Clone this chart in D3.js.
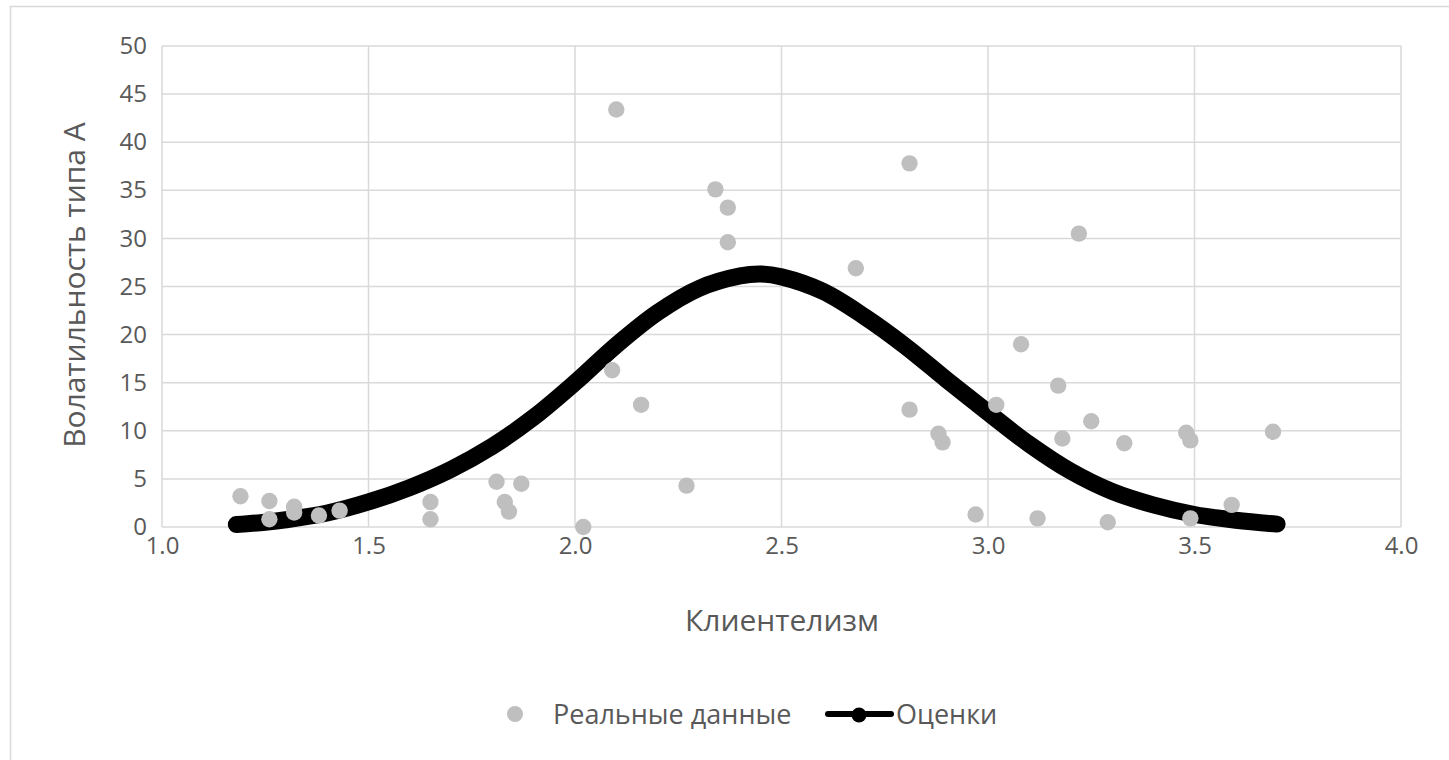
<!DOCTYPE html>
<html>
<head>
<meta charset="utf-8">
<script src="https://cdn.jsdelivr.net/npm/d3@7"></script>
<style>
  body { margin: 0; background: #fff; }
  text { font-family: "Open Sans", "Noto Sans", sans-serif; fill: #595959; }
</style>
</head>
<body>
<script>
// real data (Клиентелизм, Волатильность типа А)
const realX = [1.19, 1.26, 1.26, 1.32, 1.32, 1.38, 1.43, 1.65, 1.65,
  1.81, 1.87, 1.83, 1.84, 2.02, 2.09, 2.10, 2.16, 2.27, 2.34, 2.37, 2.37,
  2.68, 2.81, 2.81, 2.88, 2.89, 2.97, 3.02, 3.08, 3.12, 3.17, 3.18, 3.22,
  3.25, 3.29, 3.33, 3.48, 3.49, 3.49, 3.59, 3.69];
const realY = [3.2, 2.7, 0.8, 2.1, 1.5, 1.2, 1.7, 2.6, 0.8,
  4.7, 4.5, 2.6, 1.6, 0.0, 16.3, 43.4, 12.7, 4.3, 35.1, 33.2, 29.6,
  26.9, 37.8, 12.2, 9.7, 8.8, 1.3, 12.7, 19.0, 0.9, 14.7, 9.2, 30.5,
  11.0, 0.5, 8.7, 9.8, 9.0, 0.9, 2.3, 9.9];

// estimates (curve)
const estX = [1.18, 1.25, 1.3, 1.4, 1.5, 1.6, 1.7, 1.8, 1.9, 2.0, 2.1, 2.2,
  2.3, 2.4, 2.45, 2.5, 2.6, 2.7, 2.8, 2.9, 3.0, 3.1, 3.2, 3.3, 3.4, 3.5, 3.6, 3.7];
const estY = [0.25, 0.5, 0.75, 1.45, 2.6, 4.1, 6.0, 8.4, 11.4, 15.0, 18.9, 22.3,
  24.8, 26.1, 26.3, 26.0, 24.5, 21.9, 18.8, 15.3, 11.9, 8.6, 5.8, 3.7, 2.3, 1.3, 0.7, 0.3];

const xTicks = [1.0, 1.5, 2.0, 2.5, 3.0, 3.5, 4.0];
const yTicks = [0, 5, 10, 15, 20, 25, 30, 35, 40, 45, 50];

const xTitle = "Клиентелизм";
const yTitle = "Волатильность типа А";
const legendNames = ["Реальные данные", "Оценки"];

const W = 1449, H = 760;
const plotLeft = 162, plotRight = 1401, plotTop = 46, plotBottom = 527;
const gridColor = "#d9d9d9";
const dotColor = "#bfbfbf";
const textColor = "#595959";
const fontFamily = "'Open Sans', 'Noto Sans', sans-serif";

const svg = d3.select("body").append("svg")
  .attr("width", W)
  .attr("height", H);

// outer chart border
svg.append("rect")
  .attr("x", 10.5).attr("y", 6.5)
  .attr("width", W).attr("height", H)
  .style("fill", "none")
  .style("stroke", gridColor)
  .style("stroke-width", 1.5);

const x = d3.scaleLinear().domain([1, 4]).range([plotLeft, plotRight]);
const y = d3.scaleLinear().domain([0, 50]).range([plotBottom, plotTop]);

// gridlines
svg.append("g").selectAll("line")
  .data(yTicks)
  .join("line")
  .attr("x1", plotLeft).attr("x2", plotRight)
  .attr("y1", d => y(d)).attr("y2", d => y(d))
  .style("stroke", gridColor)
  .style("stroke-width", 1.5);

svg.append("g").selectAll("line")
  .data(xTicks)
  .join("line")
  .attr("x1", d => x(d)).attr("x2", d => x(d))
  .attr("y1", plotTop).attr("y2", plotBottom)
  .style("stroke", gridColor)
  .style("stroke-width", 1.5);

// axes (labels only, Excel style)
const xAxis = svg.append("g")
  .attr("transform", `translate(0,${plotBottom})`)
  .call(d3.axisBottom(x).tickValues(xTicks).tickFormat(d3.format(".1f")).tickSize(0).tickPadding(10));
xAxis.select(".domain").remove();
xAxis.selectAll("text").style("font-size", "24px").style("fill", textColor)
  .style("font-family", fontFamily);

const yAxis = svg.append("g")
  .attr("transform", `translate(${plotLeft},0)`)
  .call(d3.axisLeft(y).tickValues(yTicks).tickSize(0).tickPadding(15));
yAxis.select(".domain").remove();
yAxis.selectAll("text").style("font-size", "24px").style("fill", textColor)
  .style("font-family", fontFamily);

// titles
svg.append("text")
  .attr("x", 782)
  .attr("y", 631)
  .attr("text-anchor", "middle")
  .style("font-size", "30px")
  .text(xTitle);

svg.append("text")
  .attr("transform", `translate(85,285) rotate(-90)`)
  .attr("text-anchor", "middle")
  .style("font-size", "30px")
  .text(yTitle);

// estimates curve (drawn below the dots)
const line = d3.line()
  .x(d => x(d[0]))
  .y(d => y(d[1]))
  .curve(d3.curveCatmullRom.alpha(0.5));

svg.append("path")
  .datum(estX.map((d, i) => [d, estY[i]]))
  .attr("d", line)
  .style("fill", "none")
  .style("stroke", "#000")
  .style("stroke-width", 17)
  .style("stroke-linecap", "round")
  .style("stroke-linejoin", "round");

// real data dots
svg.append("g").selectAll("circle")
  .data(realX.map((d, i) => [d, realY[i]]))
  .join("circle")
  .attr("cx", d => x(d[0]))
  .attr("cy", d => y(d[1]))
  .attr("r", 8.2)
  .style("fill", dotColor);

// legend
const ly = 714;
svg.append("circle")
  .attr("cx", 515).attr("cy", ly).attr("r", 8)
  .style("fill", dotColor);
svg.append("text")
  .attr("x", 553).attr("y", ly + 10)
  .style("font-size", "27px")
  .text(legendNames[0]);

svg.append("line")
  .attr("x1", 828).attr("x2", 891)
  .attr("y1", ly).attr("y2", ly)
  .style("stroke", "#000")
  .style("stroke-width", 6)
  .style("stroke-linecap", "round");
svg.append("circle")
  .attr("cx", 859).attr("cy", ly + 1).attr("r", 7.5)
  .style("fill", "#000");
svg.append("text")
  .attr("x", 896).attr("y", ly + 10)
  .style("font-size", "27px")
  .text(legendNames[1]);
</script>
</body>
</html>
